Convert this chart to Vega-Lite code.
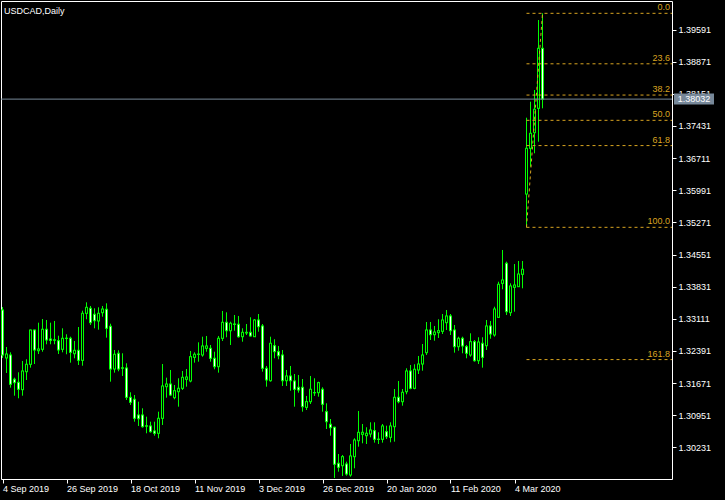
{
"$schema": "https://vega.github.io/schema/vega-lite/v6.json",
"width": 671, "height": 478,
"autosize": {"type": "none"},
"padding": {"left": 1, "top": 1, "right": 53, "bottom": 21},
"background": "#000000",
"title": {"text": "USDCAD,Daily", "anchor": "start", "frame": "group", "orient": "top", "offset": -12, "dx": 3, "dy": 10, "baseline": "alphabetic", "color": "#FFFFFF", "font": "Liberation Sans", "fontSize": 9, "fontWeight": "normal"},
"datasets": {
"candles": [
{"i":0,"o":1.33308,"h":1.33375,"l":1.32233,"c":1.32300},
{"i":1,"o":1.32233,"h":1.32479,"l":1.31897,"c":1.32322},
{"i":2,"o":1.32300,"h":1.32360,"l":1.31568,"c":1.31644},
{"i":3,"o":1.31756,"h":1.31792,"l":1.31388,"c":1.31680},
{"i":4,"o":1.31688,"h":1.31912,"l":1.31330,"c":1.31532},
{"i":5,"o":1.31523,"h":1.32166,"l":1.31388,"c":1.31942},
{"i":6,"o":1.31926,"h":1.32204,"l":1.31740,"c":1.32092},
{"i":7,"o":1.32092,"h":1.32870,"l":1.32016,"c":1.32860},
{"i":8,"o":1.32860,"h":1.32870,"l":1.32098,"c":1.32412},
{"i":9,"o":1.32396,"h":1.33024,"l":1.32322,"c":1.32434},
{"i":10,"o":1.32428,"h":1.33106,"l":1.32374,"c":1.32876},
{"i":11,"o":1.32876,"h":1.33084,"l":1.32540,"c":1.32636},
{"i":12,"o":1.32658,"h":1.33024,"l":1.32540,"c":1.32629},
{"i":13,"o":1.32636,"h":1.33062,"l":1.32540,"c":1.32635},
{"i":14,"o":1.32620,"h":1.32732,"l":1.32322,"c":1.32412},
{"i":15,"o":1.32428,"h":1.32898,"l":1.32360,"c":1.32674},
{"i":16,"o":1.32674,"h":1.32764,"l":1.32316,"c":1.32673},
{"i":17,"o":1.32674,"h":1.32710,"l":1.32128,"c":1.32360},
{"i":18,"o":1.32329,"h":1.32614,"l":1.32226,"c":1.32405},
{"i":19,"o":1.32405,"h":1.32927,"l":1.32076,"c":1.32181},
{"i":20,"o":1.32181,"h":1.33292,"l":1.32060,"c":1.33234},
{"i":21,"o":1.33234,"h":1.33480,"l":1.33100,"c":1.33368},
{"i":22,"o":1.33346,"h":1.33398,"l":1.32972,"c":1.33024},
{"i":23,"o":1.33212,"h":1.33346,"l":1.32898,"c":1.33068},
{"i":24,"o":1.33062,"h":1.33368,"l":1.32867,"c":1.33234},
{"i":25,"o":1.33248,"h":1.33398,"l":1.33158,"c":1.33330},
{"i":26,"o":1.33324,"h":1.33458,"l":1.32688,"c":1.32898},
{"i":27,"o":1.32943,"h":1.33001,"l":1.31702,"c":1.31986},
{"i":28,"o":1.31986,"h":1.32412,"l":1.31904,"c":1.32316},
{"i":29,"o":1.32338,"h":1.32405,"l":1.31935,"c":1.31986},
{"i":30,"o":1.32009,"h":1.32338,"l":1.31830,"c":1.32008},
{"i":31,"o":1.32009,"h":1.32114,"l":1.31292,"c":1.31352},
{"i":32,"o":1.31352,"h":1.31464,"l":1.31180,"c":1.31240},
{"i":33,"o":1.31308,"h":1.31404,"l":1.30806,"c":1.30882},
{"i":34,"o":1.30956,"h":1.31254,"l":1.30710,"c":1.30873},
{"i":35,"o":1.30956,"h":1.31106,"l":1.30672,"c":1.30694},
{"i":36,"o":1.30710,"h":1.30918,"l":1.30546,"c":1.30709},
{"i":37,"o":1.30710,"h":1.30806,"l":1.30560,"c":1.30582},
{"i":38,"o":1.30598,"h":1.30806,"l":1.30492,"c":1.30546},
{"i":39,"o":1.30546,"h":1.31030,"l":1.30434,"c":1.30882},
{"i":40,"o":1.30882,"h":1.32098,"l":1.30732,"c":1.31606},
{"i":41,"o":1.31590,"h":1.31792,"l":1.31344,"c":1.31650},
{"i":42,"o":1.31650,"h":1.31964,"l":1.31382,"c":1.31404},
{"i":43,"o":1.31344,"h":1.31628,"l":1.31308,"c":1.31500},
{"i":44,"o":1.31478,"h":1.31778,"l":1.31142,"c":1.31554},
{"i":45,"o":1.31554,"h":1.31942,"l":1.31516,"c":1.31800},
{"i":46,"o":1.31756,"h":1.31986,"l":1.31590,"c":1.31807},
{"i":47,"o":1.31718,"h":1.32390,"l":1.31688,"c":1.32262},
{"i":48,"o":1.32248,"h":1.32360,"l":1.32128,"c":1.32316},
{"i":49,"o":1.32316,"h":1.32584,"l":1.32150,"c":1.32317},
{"i":50,"o":1.32300,"h":1.32710,"l":1.32262,"c":1.32502},
{"i":51,"o":1.32450,"h":1.32726,"l":1.32374,"c":1.32502},
{"i":52,"o":1.32450,"h":1.32524,"l":1.32150,"c":1.32226},
{"i":53,"o":1.32226,"h":1.32374,"l":1.31980,"c":1.32038},
{"i":54,"o":1.32038,"h":1.32726,"l":1.31904,"c":1.32674},
{"i":55,"o":1.32674,"h":1.33286,"l":1.32614,"c":1.33032},
{"i":56,"o":1.33032,"h":1.33256,"l":1.32697,"c":1.32844},
{"i":57,"o":1.32844,"h":1.33046,"l":1.32524,"c":1.33010},
{"i":58,"o":1.32988,"h":1.33196,"l":1.32844,"c":1.32990},
{"i":59,"o":1.32988,"h":1.33174,"l":1.32688,"c":1.32710},
{"i":60,"o":1.32710,"h":1.32898,"l":1.32598,"c":1.32808},
{"i":61,"o":1.32793,"h":1.32994,"l":1.32748,"c":1.32808},
{"i":62,"o":1.32808,"h":1.33145,"l":1.32710,"c":1.32726},
{"i":63,"o":1.32710,"h":1.33106,"l":1.32705,"c":1.33084},
{"i":64,"o":1.33084,"h":1.33218,"l":1.32822,"c":1.32934},
{"i":65,"o":1.32950,"h":1.32994,"l":1.31926,"c":1.32002},
{"i":66,"o":1.32002,"h":1.32054,"l":1.31590,"c":1.31740},
{"i":67,"o":1.31724,"h":1.32710,"l":1.31702,"c":1.32562},
{"i":68,"o":1.32508,"h":1.32652,"l":1.32226,"c":1.32374},
{"i":69,"o":1.32374,"h":1.32502,"l":1.32204,"c":1.32284},
{"i":70,"o":1.32300,"h":1.32412,"l":1.31606,"c":1.31724},
{"i":71,"o":1.31724,"h":1.31964,"l":1.31606,"c":1.31830},
{"i":72,"o":1.31830,"h":1.32054,"l":1.31500,"c":1.31724},
{"i":73,"o":1.31718,"h":1.31874,"l":1.31142,"c":1.31532},
{"i":74,"o":1.31576,"h":1.31852,"l":1.31456,"c":1.31516},
{"i":75,"o":1.31576,"h":1.31762,"l":1.31030,"c":1.31142},
{"i":76,"o":1.31128,"h":1.31382,"l":1.31068,"c":1.31254},
{"i":77,"o":1.31254,"h":1.31830,"l":1.31202,"c":1.31532},
{"i":78,"o":1.31456,"h":1.31778,"l":1.31382,"c":1.31455},
{"i":79,"o":1.31456,"h":1.31702,"l":1.31366,"c":1.31680},
{"i":80,"o":1.31532,"h":1.31576,"l":1.31030,"c":1.31196},
{"i":81,"o":1.31030,"h":1.31218,"l":1.30642,"c":1.30806},
{"i":82,"o":1.30748,"h":1.30866,"l":1.30492,"c":1.30672},
{"i":83,"o":1.30681,"h":1.30694,"l":1.29545,"c":1.29852},
{"i":84,"o":1.29874,"h":1.30082,"l":1.29686,"c":1.29785},
{"i":85,"o":1.29820,"h":1.30060,"l":1.29590,"c":1.30022},
{"i":86,"o":1.29858,"h":1.29910,"l":1.29596,"c":1.29634},
{"i":87,"o":1.29612,"h":1.30306,"l":1.29574,"c":1.30038},
{"i":88,"o":1.30022,"h":1.30434,"l":1.29762,"c":1.30396},
{"i":89,"o":1.30380,"h":1.31046,"l":1.30246,"c":1.30568},
{"i":90,"o":1.30524,"h":1.30754,"l":1.30322,"c":1.30568},
{"i":91,"o":1.30492,"h":1.30681,"l":1.30306,"c":1.30546},
{"i":92,"o":1.30530,"h":1.30792,"l":1.30456,"c":1.30620},
{"i":93,"o":1.30604,"h":1.30792,"l":1.30336,"c":1.30412},
{"i":94,"o":1.30412,"h":1.30568,"l":1.30306,"c":1.30411},
{"i":95,"o":1.30412,"h":1.30754,"l":1.30336,"c":1.30710},
{"i":96,"o":1.30582,"h":1.30716,"l":1.30418,"c":1.30470},
{"i":97,"o":1.30456,"h":1.30792,"l":1.30344,"c":1.30710},
{"i":98,"o":1.30694,"h":1.31538,"l":1.30358,"c":1.31352},
{"i":99,"o":1.31352,"h":1.31718,"l":1.31218,"c":1.31254},
{"i":100,"o":1.31254,"h":1.31538,"l":1.31164,"c":1.31464},
{"i":101,"o":1.31478,"h":1.32002,"l":1.31420,"c":1.31942},
{"i":102,"o":1.31942,"h":1.32076,"l":1.31532,"c":1.31554},
{"i":103,"o":1.31554,"h":1.32092,"l":1.31532,"c":1.31980},
{"i":104,"o":1.31964,"h":1.32278,"l":1.31874,"c":1.32098},
{"i":105,"o":1.32098,"h":1.32546,"l":1.31948,"c":1.32300},
{"i":106,"o":1.32352,"h":1.33039,"l":1.32300,"c":1.32860},
{"i":107,"o":1.32860,"h":1.33039,"l":1.32636,"c":1.32755},
{"i":108,"o":1.32755,"h":1.32950,"l":1.32620,"c":1.32815},
{"i":109,"o":1.32800,"h":1.33100,"l":1.32681,"c":1.32844},
{"i":110,"o":1.32831,"h":1.33218,"l":1.32770,"c":1.33084},
{"i":111,"o":1.33024,"h":1.33308,"l":1.32860,"c":1.33174},
{"i":112,"o":1.33174,"h":1.33218,"l":1.32748,"c":1.32844},
{"i":113,"o":1.32860,"h":1.32972,"l":1.32352,"c":1.32486},
{"i":114,"o":1.32486,"h":1.32710,"l":1.32396,"c":1.32674},
{"i":115,"o":1.32674,"h":1.32710,"l":1.32338,"c":1.32502},
{"i":116,"o":1.32486,"h":1.32524,"l":1.32226,"c":1.32338},
{"i":117,"o":1.32300,"h":1.32786,"l":1.32262,"c":1.32598},
{"i":118,"o":1.32598,"h":1.32636,"l":1.32150,"c":1.32172},
{"i":119,"o":1.32172,"h":1.32697,"l":1.32098,"c":1.32591},
{"i":120,"o":1.32562,"h":1.32697,"l":1.32016,"c":1.32248},
{"i":121,"o":1.32508,"h":1.33084,"l":1.32412,"c":1.32950},
{"i":122,"o":1.32950,"h":1.33062,"l":1.32665,"c":1.32770},
{"i":123,"o":1.32748,"h":1.33382,"l":1.32710,"c":1.33330},
{"i":124,"o":1.33145,"h":1.33942,"l":1.33129,"c":1.33884},
{"i":125,"o":1.33906,"h":1.34652,"l":1.33772,"c":1.33980},
{"i":126,"o":1.34354,"h":1.34390,"l":1.33196,"c":1.33270},
{"i":127,"o":1.33248,"h":1.33906,"l":1.33174,"c":1.33846},
{"i":128,"o":1.33817,"h":1.34338,"l":1.33270,"c":1.33868},
{"i":129,"o":1.33830,"h":1.34406,"l":1.33825,"c":1.34114},
{"i":130,"o":1.34108,"h":1.34406,"l":1.33794,"c":1.34220},
{"i":131,"o":1.35906,"h":1.37616,"l":1.35160,"c":1.36930},
{"i":132,"o":1.36930,"h":1.37974,"l":1.36518,"c":1.37266},
{"i":133,"o":1.37280,"h":1.38236,"l":1.36818,"c":1.37804},
{"i":134,"o":1.37826,"h":1.39804,"l":1.37078,"c":1.39170},
{"i":135,"o":1.39170,"h":1.39954,"l":1.37826,"c":1.38032}
],
"fib": [
{"lvl":"0.0","i":131,"p":1.39954},
{"lvl":"23.6","i":131,"p":1.38823},
{"lvl":"38.2","i":131,"p":1.38123},
{"lvl":"50.0","i":131,"p":1.37557},
{"lvl":"61.8","i":131,"p":1.36991},
{"lvl":"100.0","i":131,"p":1.35160},
{"lvl":"161.8","i":131,"p":1.32197}
],
"trend": [
{"i":131,"p":1.35160},
{"i":135,"p":1.39954}
],
"price": [
{"p":1.38032,"t":"1.38032"}
]
},
"layer": [
{
"data": {"name": "candles"},
"mark": {"type": "rule", "color": "#00FF00", "strokeWidth": 1, "clip": true},
"encoding": {
"x": {"field": "i", "type": "quantitative", "title": null,
 "scale": {"domain": [-0.375, 167.375], "nice": false, "zero": false, "padding": 0},
 "axis": {"orient": "bottom", "values": [0,16,32,48,64,80,96,112,128], "tickCount": 30, "labelExpr": "['4 Sep 2019','26 Sep 2019','18 Oct 2019','11 Nov 2019','3 Dec 2019','26 Dec 2019','20 Jan 2020','11 Feb 2020','4 Mar 2020'][round(datum.value/16)]", "labelAlign": "left", "labelPadding": 1, "labelOverlap": false, "labelFlush": false, "labelBound": false, "tickSize": 4, "title": null}},
"y": {"field": "h", "type": "quantitative", "title": null,
 "scale": {"domain": [1.29522, 1.4023], "nice": false, "zero": false, "padding": 0},
 "axis": {"orient": "right", "values": [1.30231,1.30951,1.31671,1.32391,1.33111,1.33831,1.34551,1.35271,1.35991,1.36711,1.37431,1.38151,1.38871,1.39591], "tickCount": 30, "format": ".5f", "tickSize": 4, "labelPadding": 2, "labelOverlap": false, "labelBound": false, "labelFlush": false, "title": null}},
"y2": {"field": "l"}
}
},
{
"data": {"name": "candles"},
"mark": {"type": "bar", "width": 3, "fill": "#00FF00", "strokeWidth": 0, "clip": true},
"encoding": {
"x": {"field": "i", "type": "quantitative", "title": null},
"y": {"field": "o", "type": "quantitative", "title": null},
"y2": {"field": "c"}
}
},
{
"data": {"name": "candles"},
"mark": {"type": "bar", "width": 1, "strokeWidth": 0, "clip": true},
"encoding": {
"x": {"field": "i", "type": "quantitative", "title": null},
"y": {"field": "o", "type": "quantitative", "title": null},
"y2": {"field": "c"},
"fill": {"condition": {"test": "datum.c >= datum.o", "value": "#000000"}, "value": "#FFFFFF"}
}
},
{
"data": {"name": "candles"},
"mark": {"type": "tick", "orient": "horizontal", "size": 3, "thickness": 1, "color": "#00FF00", "opacity": 1, "clip": true},
"encoding": {
"x": {"field": "i", "type": "quantitative", "title": null},
"y": {"field": "o", "type": "quantitative", "title": null}
}
},
{
"data": {"name": "candles"},
"mark": {"type": "tick", "orient": "horizontal", "size": 3, "thickness": 1, "color": "#00FF00", "opacity": 1, "clip": true},
"encoding": {
"x": {"field": "i", "type": "quantitative", "title": null},
"y": {"field": "c", "type": "quantitative", "title": null}
}
},
{
"data": {"name": "fib"},
"mark": {"type": "rule", "color": "#DAA520", "strokeWidth": 1, "strokeDash": [3, 3]},
"encoding": {
"x": {"field": "i", "type": "quantitative", "title": null},
"x2": {"value": "width"},
"y": {"field": "p", "type": "quantitative", "title": null}
}
},
{
"data": {"name": "trend"},
"mark": {"type": "line", "color": "#DAA520", "strokeWidth": 1, "strokeDash": [3, 3]},
"encoding": {
"x": {"field": "i", "type": "quantitative", "title": null},
"y": {"field": "p", "type": "quantitative", "title": null}
}
},
{
"data": {"name": "price"},
"mark": {"type": "rule", "color": "#778899", "strokeWidth": 1},
"encoding": {
"y": {"field": "p", "type": "quantitative", "title": null}
}
},
{
"data": {"name": "fib"},
"mark": {"type": "text", "align": "right", "baseline": "alphabetic", "dx": -2, "dy": -3, "color": "#DAA520", "font": "Liberation Sans", "fontSize": 9},
"encoding": {
"x": {"value": "width"},
"y": {"field": "p", "type": "quantitative", "title": null},
"text": {"field": "lvl"}
}
},
{
"data": {"name": "price"},
"mark": {"type": "point", "shape": "M-1,-0.275H1V0.275H-1Z", "size": 1600, "filled": true, "fill": "#778899", "opacity": 1, "strokeWidth": 0, "xOffset": 22, "clip": false},
"encoding": {
"x": {"value": "width"},
"y": {"field": "p", "type": "quantitative", "title": null}
}
},
{
"data": {"name": "price"},
"mark": {"type": "text", "align": "center", "baseline": "middle", "dx": 22, "color": "#FFFFFF", "font": "Liberation Sans", "fontSize": 9},
"encoding": {
"x": {"value": "width"},
"y": {"field": "p", "type": "quantitative", "title": null},
"text": {"field": "t"}
}
}
],
"config": {
"view": {"stroke": "#FFFFFF", "strokeWidth": 1, "fill": "#000000"},
"axis": {"grid": false, "domain": false, "labelColor": "#FFFFFF", "tickColor": "#FFFFFF", "labelFont": "Liberation Sans", "labelFontSize": 9, "labelOverlap": false},
"scale": {"continuousPadding": 0}
}
}
